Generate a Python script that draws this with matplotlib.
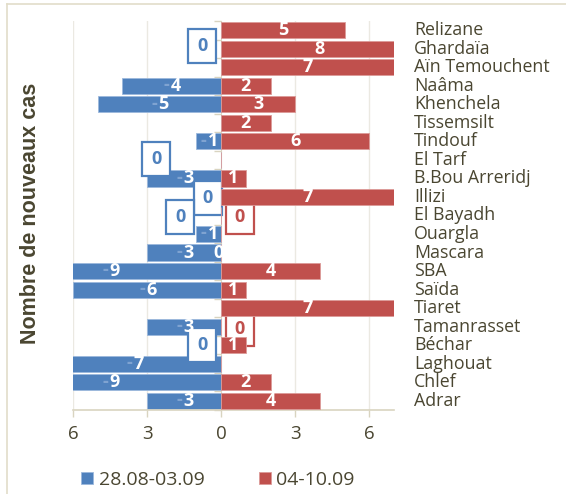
import numpy as np
import matplotlib
matplotlib.use("Agg")
import matplotlib.pyplot as plt
from matplotlib.patches import Rectangle
from matplotlib.lines import Line2D
import matplotlib.transforms as mtransforms

# ---- data ----
categories = ["Relizane", "Ghardaïa", "Aïn Temouchent", "Naâma", "Khenchela",
              "Tissemsilt", "Tindouf", "El Tarf", "B.Bou Arreridj", "Illizi",
              "El Bayadh", "Ouargla", "Mascara", "SBA", "Saïda", "Tiaret",
              "Tamanrasset", "Béchar", "Laghouat", "Chlef", "Adrar"]
week1 = [None, 0, None, 4, 5, None, 1, 0, 3, 0, 0, 1, 3, 9, 6, None, 3, 0, 7, 9, 3]
week2 = [5, 8, 7, 2, 3, 2, 6, None, 1, 7, 0, None, 0, 4, 1, 7, 0, 1, None, 2, 4]
series_names = ["28.08-03.09", "04-10.09"]
xtick_vals = [-6, -3, 0, 3, 6]
xtick_labels = ["6", "3", "0", "3", "6"]

# placement of the boxed zero labels: (series, category, x offset, row offset)
zero_boxes = [(0, "Ghardaïa", -0.76, -0.13),
              (0, "El Tarf", -2.62, -0.05),
              (0, "Illizi", -0.54, 0.06),
              (0, "El Bayadh", -1.65, 0.09),
              (1, "El Bayadh", 0.76, 0.09),
              (1, "Tamanrasset", 0.76, 0.12),
              (0, "Béchar", -0.76, -0.02)]

BLUE = "#4f81bd"
RED = "#c0504d"
TXT = "#4a4631"
AXC = "#d9d4c0"
GRID = "#ebe9e2"

W, H = 566, 494
fig = plt.figure(figsize=(W / 100, H / 100), dpi=100)
ax = fig.add_axes([73 / W, 1 - 410 / H, (394 - 73) / W, (410 - 21) / H])

n = len(categories)
y = np.arange(n)
v1 = np.array([np.nan if v is None else -v for v in week1], dtype=float)
v2 = np.array([np.nan if v is None else v for v in week2], dtype=float)

bh = 0.87
b1 = ax.barh(y, np.nan_to_num(v1), height=bh, color=BLUE, edgecolor="#9cb8dc",
             linewidth=0.6, zorder=2, label=series_names[0])
b2 = ax.barh(y, np.nan_to_num(v2), height=bh, color=RED, edgecolor="#dc9a98",
             linewidth=0.6, zorder=4, label=series_names[1])

ax.set_xlim(-6, 7)
ax.set_ylim(n - 0.5, -0.5)

# grid
for gx in [-6, -3, 3, 6]:
    ax.axvline(gx, color=GRID, lw=1, zorder=0)

# spines
for s in ["top", "right"]:
    ax.spines[s].set_visible(False)
ax.spines["left"].set_position(("data", 0))
ax.spines["left"].set_color(AXC)
ax.spines["left"].set_zorder(1)
ax.spines["bottom"].set_color(AXC)
ax.spines["bottom"].set_linewidth(1.2)
ax.set_yticks(np.arange(n + 1) - 0.5)
ax.set_yticklabels([])
ax.tick_params(axis="y", length=5, color=AXC, width=1)
ax.set_xticks(xtick_vals)
ax.set_xticklabels(xtick_labels, fontfamily="Open Sans", fontsize=13.5, color=TXT)
ax.tick_params(axis="x", length=5, color=AXC, width=1, pad=6)

# category labels
trans = mtransforms.blended_transform_factory(ax.transAxes, ax.transData)
xl = (414 - 73) / (394 - 73)
for i, c in enumerate(categories):
    ax.text(xl, i, c, transform=trans, ha="left", va="center",
            fontfamily="Open Sans", fontsize=12.8, color=TXT, clip_on=False)

# bar value labels
boxed = {(s, c) for s, c, _, _ in zero_boxes}
lab_kw = dict(fontfamily="Open Sans", fontsize=13, fontweight="bold",
              color="white", va="center", zorder=6)
for i, c in enumerate(categories):
    a = week1[i]
    if a is not None and (0, c) not in boxed:
        if a > 0:
            ax.annotate(str(a), (-a / 2, i), xytext=(3, 0), textcoords="offset points",
                        ha="center", **lab_kw)
            ax.annotate("-", (-a / 2, i), xytext=(-1.5, 0.5), textcoords="offset points",
                        ha="right", va="center", fontfamily="Open Sans", fontsize=13,
                        fontweight="bold", color="#7fa3d1", zorder=6)
    b = week2[i]
    if b is not None and (1, c) not in boxed:
        ax.text(b / 2 if b > 0 else -0.12, i, str(b), ha="center", **lab_kw)

# boxed zero labels
bw = 28 / 24.67
bhh = 34 / 18.43
for s, c, dx, dy in zero_boxes:
    i = categories.index(c)
    cx, cy = dx, i + dy
    col = BLUE if s == 0 else RED
    ax.add_patch(Rectangle((cx - bw / 2, cy - bhh / 2), bw, bhh, facecolor="white",
                           edgecolor=col, lw=1.6, zorder=3, clip_on=False))
    ax.text(cx, cy, "0", ha="center", va="center", fontfamily="Open Sans",
            fontsize=13, fontweight="bold", color=col, zorder=3.5)

# y label
fig.text(31 / W, 1 - 213 / H, "Nombre de nouveaux cas", rotation=90, ha="center",
         va="center", fontfamily="Liberation Sans", fontweight="bold",
         fontsize=15.5, color=TXT)

# legend
fig.legend(handles=[b1, b2], labels=series_names, loc="center",
           bbox_to_anchor=(218 / W, 1 - 480 / H), ncol=2, frameon=False,
           prop={"family": "Open Sans", "size": 14}, labelcolor=TXT,
           handlelength=0.6, handleheight=0.6, handletextpad=0.3,
           columnspacing=2.8)

# outer border (top and left)
fig.add_artist(Line2D([7 / W, 1], [1 - 4 / H, 1 - 4 / H], color="#e2ddc9", lw=1.2,
                      transform=fig.transFigure))
fig.add_artist(Line2D([7 / W, 7 / W], [1 - 4 / H, 0], color="#e2ddc9", lw=1.2,
                      transform=fig.transFigure))

fig.savefig("out.png", dpi=100)
